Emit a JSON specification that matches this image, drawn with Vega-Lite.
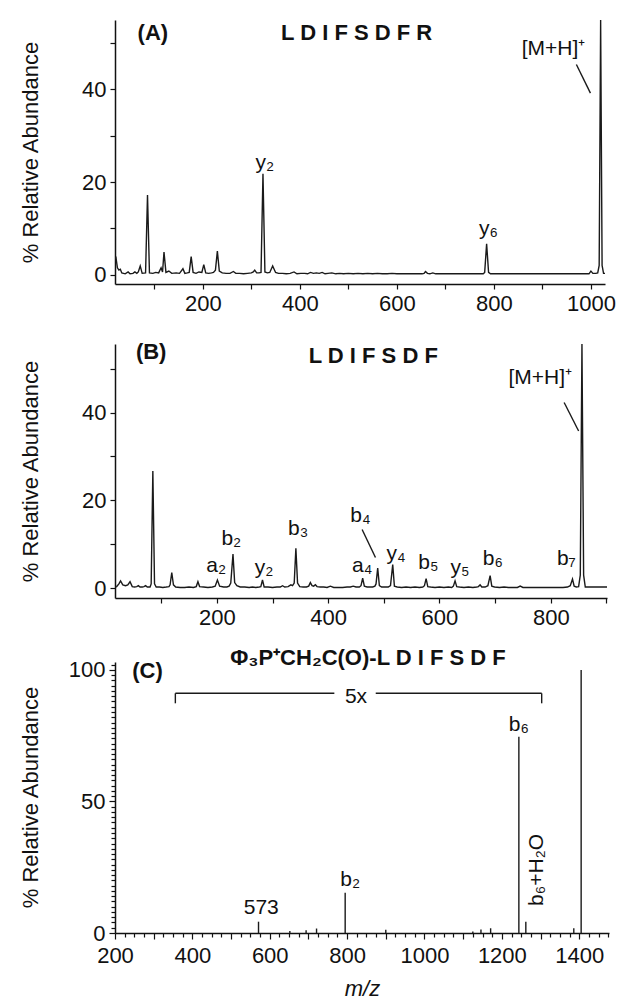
{
  "$schema": "https://vega.github.io/schema/vega-lite/v6.json",
  "padding": {"left": 19, "top": 20, "right": 5, "bottom": 2},
  "background": "white",
  "spacing": 19,
  "bounds": "full",
  "config": {
    "view": {"stroke": null},
    "font": "Liberation Sans",
    "axis": {
      "grid": false,
      "domainColor": "#111",
      "tickColor": "#111",
      "labelColor": "#111",
      "titleColor": "#111",
      "labelFont": "Liberation Sans",
      "titleFont": "Liberation Sans",
      "labelFontSize": 22,
      "titleFontSize": 22,
      "titleFontWeight": "normal",
      "domainWidth": 1.5,
      "tickWidth": 1.2,
      "labelOverlap": false,
      "labelFlush": false
    },
    "text": {"font": "Liberation Sans", "fontSize": 21, "color": "#111"}
  },
  "datasets": {
    "traceA": [
      {"mz":19,"v":3.5},{"mz":21,"v":3.7},{"mz":24,"v":1.5},{"mz":27,"v":1.0},{"mz":30,"v":1.2},{"mz":33,"v":0.4},{"mz":40,"v":0.2},{"mz":46,"v":0.6},{"mz":50,"v":0.2},{"mz":56,"v":0.3},{"mz":60,"v":0.6},{"mz":64,"v":0.3},{"mz":67,"v":0.6},{"mz":71,"v":1.9},{"mz":75,"v":0.3},{"mz":82,"v":0.4},{"mz":86,"v":17.2},{"mz":90,"v":0.4},{"mz":97,"v":0.3},{"mz":103,"v":0.5},{"mz":109,"v":0.4},{"mz":114,"v":1.5},{"mz":117,"v":0.6},{"mz":120,"v":4.9},{"mz":124,"v":0.5},{"mz":130,"v":0.8},{"mz":136,"v":0.3},{"mz":145,"v":0.4},{"mz":152,"v":0.3},{"mz":159,"v":1.3},{"mz":163,"v":0.3},{"mz":168,"v":0.4},{"mz":172,"v":0.5},{"mz":176,"v":3.9},{"mz":180,"v":0.5},{"mz":186,"v":0.3},{"mz":192,"v":0.6},{"mz":198,"v":0.5},{"mz":202,"v":2.2},{"mz":206,"v":0.4},{"mz":212,"v":0.3},{"mz":218,"v":0.4},{"mz":222,"v":0.5},{"mz":226,"v":1.0},{"mz":230,"v":5.1},{"mz":234,"v":0.8},{"mz":240,"v":0.4},{"mz":248,"v":0.3},{"mz":256,"v":0.3},{"mz":263,"v":0.7},{"mz":268,"v":0.3},{"mz":276,"v":0.3},{"mz":284,"v":0.2},{"mz":292,"v":0.3},{"mz":300,"v":0.4},{"mz":304,"v":0.6},{"mz":307,"v":1.0},{"mz":311,"v":0.4},{"mz":316,"v":0.4},{"mz":320,"v":0.5},{"mz":324,"v":21.8},{"mz":328,"v":0.6},{"mz":333,"v":0.4},{"mz":338,"v":0.5},{"mz":344,"v":1.9},{"mz":347,"v":1.2},{"mz":350,"v":0.5},{"mz":356,"v":0.3},{"mz":364,"v":0.3},{"mz":372,"v":0.2},{"mz":380,"v":0.3},{"mz":388,"v":0.6},{"mz":394,"v":0.2},{"mz":402,"v":0.3},{"mz":410,"v":0.3},{"mz":416,"v":0.2},{"mz":422,"v":0.5},{"mz":428,"v":0.3},{"mz":434,"v":0.4},{"mz":440,"v":0.3},{"mz":446,"v":0.5},{"mz":452,"v":0.2},{"mz":458,"v":0.3},{"mz":466,"v":0.4},{"mz":474,"v":0.2},{"mz":482,"v":0.3},{"mz":490,"v":0.2},{"mz":500,"v":0.3},{"mz":510,"v":0.2},{"mz":520,"v":0.3},{"mz":530,"v":0.2},{"mz":540,"v":0.3},{"mz":550,"v":0.2},{"mz":560,"v":0.3},{"mz":570,"v":0.2},{"mz":580,"v":0.2},{"mz":590,"v":0.3},{"mz":600,"v":0.2},{"mz":610,"v":0.2},{"mz":620,"v":0.2},{"mz":630,"v":0.2},{"mz":640,"v":0.2},{"mz":652,"v":0.2},{"mz":656,"v":0.3},{"mz":659,"v":0.7},{"mz":663,"v":0.3},{"mz":668,"v":0.2},{"mz":674,"v":0.4},{"mz":680,"v":0.2},{"mz":690,"v":0.2},{"mz":700,"v":0.2},{"mz":710,"v":0.2},{"mz":720,"v":0.2},{"mz":730,"v":0.2},{"mz":740,"v":0.2},{"mz":750,"v":0.2},{"mz":760,"v":0.2},{"mz":770,"v":0.2},{"mz":778,"v":0.2},{"mz":781,"v":0.5},{"mz":785,"v":6.7},{"mz":789,"v":0.5},{"mz":793,"v":0.2},{"mz":800,"v":0.2},{"mz":810,"v":0.2},{"mz":820,"v":0.2},{"mz":830,"v":0.2},{"mz":840,"v":0.2},{"mz":850,"v":0.2},{"mz":860,"v":0.2},{"mz":870,"v":0.2},{"mz":880,"v":0.2},{"mz":890,"v":0.2},{"mz":900,"v":0.2},{"mz":910,"v":0.2},{"mz":920,"v":0.2},{"mz":930,"v":0.2},{"mz":940,"v":0.2},{"mz":950,"v":0.2},{"mz":960,"v":0.2},{"mz":970,"v":0.2},{"mz":980,"v":0.2},{"mz":990,"v":0.2},{"mz":996,"v":0.2},{"mz":1000,"v":0.8},{"mz":1004,"v":0.3},{"mz":1010,"v":0.3},{"mz":1014,"v":0.4},{"mz":1017,"v":2},{"mz":1020,"v":55},{"mz":1023,"v":2},{"mz":1026,"v":0.3},{"mz":1029,"v":0.3}
    ],
    "traceB": [
      {"mz":17,"v":0.3},{"mz":20,"v":0.4},{"mz":24,"v":1.0},{"mz":27,"v":1.7},{"mz":31,"v":0.8},{"mz":36,"v":0.6},{"mz":40,"v":0.8},{"mz":44,"v":1.5},{"mz":48,"v":0.4},{"mz":52,"v":0.3},{"mz":56,"v":0.4},{"mz":59,"v":0.6},{"mz":62,"v":0.3},{"mz":66,"v":0.3},{"mz":69,"v":0.4},{"mz":72,"v":0.6},{"mz":75,"v":0.3},{"mz":80,"v":0.3},{"mz":82,"v":1.0},{"mz":85,"v":26.7},{"mz":88,"v":1.0},{"mz":91,"v":0.3},{"mz":97,"v":0.3},{"mz":103,"v":0.2},{"mz":109,"v":0.3},{"mz":114,"v":0.4},{"mz":116,"v":0.8},{"mz":119,"v":3.6},{"mz":122,"v":0.8},{"mz":126,"v":0.3},{"mz":134,"v":0.2},{"mz":142,"v":0.2},{"mz":150,"v":0.3},{"mz":158,"v":0.2},{"mz":163,"v":0.4},{"mz":166,"v":1.5},{"mz":169,"v":0.4},{"mz":176,"v":0.3},{"mz":184,"v":0.2},{"mz":192,"v":0.3},{"mz":197,"v":0.5},{"mz":201,"v":1.9},{"mz":205,"v":0.5},{"mz":212,"v":0.3},{"mz":218,"v":0.3},{"mz":222,"v":0.5},{"mz":225,"v":1.2},{"mz":229,"v":7.8},{"mz":232,"v":1.3},{"mz":236,"v":0.6},{"mz":242,"v":0.3},{"mz":250,"v":0.3},{"mz":258,"v":0.2},{"mz":264,"v":0.3},{"mz":270,"v":0.2},{"mz":276,"v":0.3},{"mz":279,"v":0.4},{"mz":282,"v":1.9},{"mz":285,"v":0.3},{"mz":292,"v":0.3},{"mz":300,"v":0.2},{"mz":308,"v":0.3},{"mz":314,"v":0.3},{"mz":318,"v":0.6},{"mz":322,"v":0.3},{"mz":328,"v":0.4},{"mz":333,"v":0.8},{"mz":336,"v":0.6},{"mz":339,"v":1.2},{"mz":342,"v":9.1},{"mz":345,"v":1.2},{"mz":349,"v":0.4},{"mz":355,"v":0.3},{"mz":361,"v":0.3},{"mz":365,"v":0.5},{"mz":368,"v":1.3},{"mz":371,"v":0.6},{"mz":374,"v":0.5},{"mz":377,"v":0.8},{"mz":380,"v":0.4},{"mz":386,"v":0.3},{"mz":392,"v":0.3},{"mz":398,"v":0.2},{"mz":404,"v":0.5},{"mz":410,"v":0.2},{"mz":418,"v":0.2},{"mz":426,"v":0.2},{"mz":434,"v":0.3},{"mz":440,"v":0.3},{"mz":445,"v":0.5},{"mz":450,"v":0.3},{"mz":456,"v":0.3},{"mz":459,"v":0.6},{"mz":462,"v":2.3},{"mz":465,"v":0.5},{"mz":470,"v":0.3},{"mz":476,"v":0.3},{"mz":480,"v":0.3},{"mz":484,"v":0.5},{"mz":486,"v":1.0},{"mz":489,"v":4.6},{"mz":492,"v":0.6},{"mz":496,"v":0.3},{"mz":502,"v":0.3},{"mz":508,"v":0.3},{"mz":512,"v":0.6},{"mz":516,"v":5.4},{"mz":519,"v":0.5},{"mz":524,"v":0.3},{"mz":532,"v":0.2},{"mz":540,"v":0.3},{"mz":548,"v":0.2},{"mz":556,"v":0.3},{"mz":564,"v":0.2},{"mz":570,"v":0.3},{"mz":573,"v":0.6},{"mz":576,"v":2.2},{"mz":579,"v":0.4},{"mz":584,"v":0.3},{"mz":592,"v":0.2},{"mz":600,"v":0.3},{"mz":608,"v":0.2},{"mz":616,"v":0.3},{"mz":622,"v":0.2},{"mz":625,"v":0.5},{"mz":628,"v":1.7},{"mz":631,"v":0.4},{"mz":636,"v":0.3},{"mz":644,"v":0.2},{"mz":652,"v":0.3},{"mz":660,"v":0.2},{"mz":667,"v":0.3},{"mz":670,"v":0.4},{"mz":673,"v":0.8},{"mz":676,"v":0.3},{"mz":682,"v":0.3},{"mz":687,"v":0.6},{"mz":691,"v":2.9},{"mz":694,"v":0.5},{"mz":699,"v":0.3},{"mz":708,"v":0.2},{"mz":716,"v":0.3},{"mz":724,"v":0.2},{"mz":732,"v":0.2},{"mz":740,"v":0.2},{"mz":745,"v":0.5},{"mz":750,"v":0.2},{"mz":758,"v":0.2},{"mz":766,"v":0.2},{"mz":774,"v":0.2},{"mz":782,"v":0.2},{"mz":790,"v":0.2},{"mz":798,"v":0.2},{"mz":806,"v":0.2},{"mz":814,"v":0.2},{"mz":822,"v":0.2},{"mz":830,"v":0.3},{"mz":835,"v":0.6},{"mz":839,"v":2.1},{"mz":842,"v":0.5},{"mz":846,"v":0.3},{"mz":850,"v":0.4},{"mz":853,"v":3},{"mz":856,"v":55.6},{"mz":859,"v":3},{"mz":862,"v":0.3},{"mz":868,"v":0.3},{"mz":876,"v":0.3},{"mz":884,"v":0.3},{"mz":892,"v":0.3},{"mz":901,"v":0.3}
    ],
    "sticksC": [
      {"mz":571,"v":4.3},{"mz":652,"v":0.8},{"mz":694,"v":1.0},{"mz":721,"v":1.7},{"mz":795,"v":15.3},{"mz":900,"v":1.2},{"mz":1125,"v":0.6},{"mz":1146,"v":1.3},{"mz":1171,"v":1.8},{"mz":1244,"v":74.6},{"mz":1262,"v":4.3},{"mz":1386,"v":1.8},{"mz":1405,"v":100}
    ],
    "labelsA": [
      {"mz":97,"v":52.3,"t":"(A)","kind":"head"},
      {"mz":517,"v":52.3,"t":"L D I F S D F R","kind":"head"},
      {"mz":923,"v":48.7,"t":"[M+H]⁺","kind":"ion"},
      {"mz":328,"v":24.2,"t":"y₂","kind":"ion"},
      {"mz":789,"v":9.8,"t":"y₆","kind":"ion"}
    ],
    "linesA": [
      {"x1":970,"y1":45.4,"x2":999,"y2":39.2}
    ],
    "labelsB": [
      {"mz":82,"v":53.7,"t":"(B)","kind":"head"},
      {"mz":481,"v":52.9,"t":"L D I F S D F","kind":"head"},
      {"mz":781,"v":47.8,"t":"[M+H]⁺","kind":"ion"},
      {"mz":199,"v":5.1,"t":"a₂","kind":"ion"},
      {"mz":226,"v":11.2,"t":"b₂","kind":"ion"},
      {"mz":285,"v":4.7,"t":"y₂","kind":"ion"},
      {"mz":346,"v":13.4,"t":"b₃","kind":"ion"},
      {"mz":458,"v":16.5,"t":"b₄","kind":"ion"},
      {"mz":461,"v":5.1,"t":"a₄","kind":"ion"},
      {"mz":522,"v":7.7,"t":"y₄","kind":"ion"},
      {"mz":580,"v":5.8,"t":"b₅","kind":"ion"},
      {"mz":637,"v":4.7,"t":"y₅","kind":"ion"},
      {"mz":696,"v":6.6,"t":"b₆","kind":"ion"},
      {"mz":828,"v":6.6,"t":"b₇","kind":"ion"}
    ],
    "linesB": [
      {"x1":824,"y1":42.3,"x2":850,"y2":35.8},
      {"x1":461,"y1":13.4,"x2":485,"y2":7.0}
    ],
    "labelsC": [
      {"mz":854,"v":104.4,"t":"Φ₃P⁺CH₂C(O)-L D I F S D F","kind":"head"},
      {"mz":284,"v":99.4,"t":"(C)","kind":"head"},
      {"mz":823,"v":89.8,"t":"5x","kind":"ion"},
      {"mz":1244,"v":79.1,"t":"b₆","kind":"ion"},
      {"mz":808,"v":20.2,"t":"b₂","kind":"ion"},
      {"mz":578,"v":9.4,"t":"573","kind":"ion"},
      {"mz":1290,"v":24.0,"t":"b₆+H₂O","kind":"vertical"}
    ],
    "linesC": [
      {"x1":356,"y1":91.1,"x2":767,"y2":91.1},
      {"x1":874,"y1":91.1,"x2":1303,"y2":91.1},
      {"x1":356,"y1":87.3,"x2":356,"y2":91.1},
      {"x1":1303,"y1":87.3,"x2":1303,"y2":91.1}
    ]
  },
  "vconcat": [
    {
      "width": 490,
      "height": 264,
      "layer": [
        {
          "data": {"name": "traceA"},
          "mark": {"type": "line", "color": "#1a1a1a", "strokeWidth": 1.4, "clip": true},
          "encoding": {
            "x": {"field": "mz", "type": "quantitative",
              "scale": {"domain": [19, 1029], "nice": false, "zero": false},
              "axis": {"values": [100,200,300,400,500,600,700,800,900,1000], "format": "d",
                "tickCount": 1000,
                "labelExpr": "datum.value % 200 === 0 ? datum.label : ''",
                "labelOverlap": false,
                "tickSize": 5, "labelPadding": 4,
                "title": ".", "titleOpacity": 0, "titleFontSize": 8, "titlePadding": 0}},
            "y": {"field": "v", "type": "quantitative",
              "scale": {"domain": [-2, 55], "nice": false, "zero": false},
              "axis": {"values": [0,10,20,30,40,50], "format": "d",
                "tickCount": 1000,
                "labelExpr": "datum.value % 20 === 0 ? datum.label : ''",
                "labelOverlap": false,
                "tickSize": 5, "labelPadding": 4,
                "title": "% Relative Abundance", "titleX": -85, "titleY": 132,
                "titleAngle": 270, "titleBaseline": "middle", "titleAlign": "center"}}
          }
        },
        {
          "data": {"name": "labelsA"},
          "transform": [{"filter": "datum.kind === 'head'"}],
          "mark": {"type": "text", "fontWeight": "bold", "fontSize": 22},
          "encoding": {
            "x": {"field": "mz", "type": "quantitative"},
            "y": {"field": "v", "type": "quantitative"},
            "text": {"field": "t"}
          }
        },
        {
          "data": {"name": "labelsA"},
          "transform": [{"filter": "datum.kind === 'ion'"}],
          "mark": {"type": "text", "fontSize": 21},
          "encoding": {
            "x": {"field": "mz", "type": "quantitative"},
            "y": {"field": "v", "type": "quantitative"},
            "text": {"field": "t"}
          }
        },
        {
          "data": {"name": "linesA"},
          "mark": {"type": "rule", "color": "#1a1a1a", "strokeWidth": 1.4},
          "encoding": {
            "x": {"field": "x1", "type": "quantitative"},
            "x2": {"field": "x2"},
            "y": {"field": "y1", "type": "quantitative"},
            "y2": {"field": "y2"}
          }
        }
      ]
    },
    {
      "width": 492,
      "height": 254,
      "layer": [
        {
          "data": {"name": "traceB"},
          "mark": {"type": "line", "color": "#1a1a1a", "strokeWidth": 1.4, "clip": true},
          "encoding": {
            "x": {"field": "mz", "type": "quantitative",
              "scale": {"domain": [17, 901], "nice": false, "zero": false},
              "axis": {"values": [100,200,300,400,500,600,700,800,900], "format": "d",
                "tickCount": 1000,
                "labelExpr": "datum.value % 200 === 0 ? datum.label : ''",
                "labelOverlap": false,
                "tickSize": 5, "labelPadding": 4, "title": null}},
            "y": {"field": "v", "type": "quantitative",
              "scale": {"domain": [-2.2, 55.6], "nice": false, "zero": false},
              "axis": {"values": [0,10,20,30,40,50], "format": "d",
                "tickCount": 1000,
                "labelExpr": "datum.value % 20 === 0 ? datum.label : ''",
                "labelOverlap": false,
                "tickSize": 5, "labelPadding": 4,
                "title": "% Relative Abundance", "titleX": -85, "titleY": 127,
                "titleAngle": 270, "titleBaseline": "middle", "titleAlign": "center"}}
          }
        },
        {
          "data": {"name": "labelsB"},
          "transform": [{"filter": "datum.kind === 'head'"}],
          "mark": {"type": "text", "fontWeight": "bold", "fontSize": 22},
          "encoding": {
            "x": {"field": "mz", "type": "quantitative"},
            "y": {"field": "v", "type": "quantitative"},
            "text": {"field": "t"}
          }
        },
        {
          "data": {"name": "labelsB"},
          "transform": [{"filter": "datum.kind === 'ion'"}],
          "mark": {"type": "text", "fontSize": 21},
          "encoding": {
            "x": {"field": "mz", "type": "quantitative"},
            "y": {"field": "v", "type": "quantitative"},
            "text": {"field": "t"}
          }
        },
        {
          "data": {"name": "linesB"},
          "mark": {"type": "rule", "color": "#1a1a1a", "strokeWidth": 1.4},
          "encoding": {
            "x": {"field": "x1", "type": "quantitative"},
            "x2": {"field": "x2"},
            "y": {"field": "y1", "type": "quantitative"},
            "y2": {"field": "y2"}
          }
        }
      ]
    },
    {
      "width": 494,
      "height": 271,
      "layer": [
        {
          "data": {"name": "sticksC"},
          "mark": {"type": "rule", "color": "#1a1a1a", "strokeWidth": 1.4},
          "encoding": {
            "x": {"field": "mz", "type": "quantitative",
              "scale": {"domain": [200, 1477], "nice": false, "zero": false},
              "axis": {"values": [200,225,250,275,300,325,350,375,400,425,450,475,500,525,550,575,600,625,650,675,700,725,750,775,800,825,850,875,900,925,950,975,1000,1025,1050,1075,1100,1125,1150,1175,1200,1225,1250,1275,1300,1325,1350,1375,1400,1425,1450,1475],
                "tickCount": 1000,
                "format": "d",
                "labelExpr": "datum.value % 200 === 0 ? datum.label : ''",
                "labelOverlap": false,
                "tickSize": {"condition": {"test": "datum.value % 100 === 0", "value": 6}, "value": 4},
                "labelPadding": 6,
                "title": "m/z", "titleFontStyle": "italic", "titlePadding": 12}},
            "y": {"field": "v", "type": "quantitative",
              "scale": {"domain": [0, 103], "nice": false, "zero": false},
              "axis": {"values": [0,2,4,6,8,10,12,14,16,18,20,22,24,26,28,30,32,34,36,38,40,42,44,46,48,50,52,54,56,58,60,62,64,66,68,70,72,74,76,78,80,82,84,86,88,90,92,94,96,98,100,102],
                "format": "d",
                "tickCount": 1000,
                "labelExpr": "datum.value % 50 === 0 ? datum.label : ''",
                "labelOverlap": false,
                "tickSize": {"condition": {"test": "datum.value % 50 === 0", "value": 6}, "value": 4},
                "labelPadding": 4,
                "title": "% Relative Abundance", "titleX": -85, "titleY": 135,
                "titleAngle": 270, "titleBaseline": "middle", "titleAlign": "center"}},
            "y2": {"datum": 0}
          }
        },
        {
          "data": {"name": "labelsC"},
          "transform": [{"filter": "datum.kind === 'head'"}],
          "mark": {"type": "text", "fontWeight": "bold", "fontSize": 22},
          "encoding": {
            "x": {"field": "mz", "type": "quantitative"},
            "y": {"field": "v", "type": "quantitative"},
            "text": {"field": "t"}
          }
        },
        {
          "data": {"name": "labelsC"},
          "transform": [{"filter": "datum.kind === 'ion'"}],
          "mark": {"type": "text", "fontSize": 21},
          "encoding": {
            "x": {"field": "mz", "type": "quantitative"},
            "y": {"field": "v", "type": "quantitative"},
            "text": {"field": "t"}
          }
        },
        {
          "data": {"name": "labelsC"},
          "transform": [{"filter": "datum.kind === 'vertical'"}],
          "mark": {"type": "text", "fontSize": 21, "angle": 270},
          "encoding": {
            "x": {"field": "mz", "type": "quantitative"},
            "y": {"field": "v", "type": "quantitative"},
            "text": {"field": "t"}
          }
        },
        {
          "data": {"name": "linesC"},
          "mark": {"type": "rule", "color": "#1a1a1a", "strokeWidth": 1.4},
          "encoding": {
            "x": {"field": "x1", "type": "quantitative"},
            "x2": {"field": "x2"},
            "y": {"field": "y1", "type": "quantitative"},
            "y2": {"field": "y2"}
          }
        }
      ]
    }
  ]
}
